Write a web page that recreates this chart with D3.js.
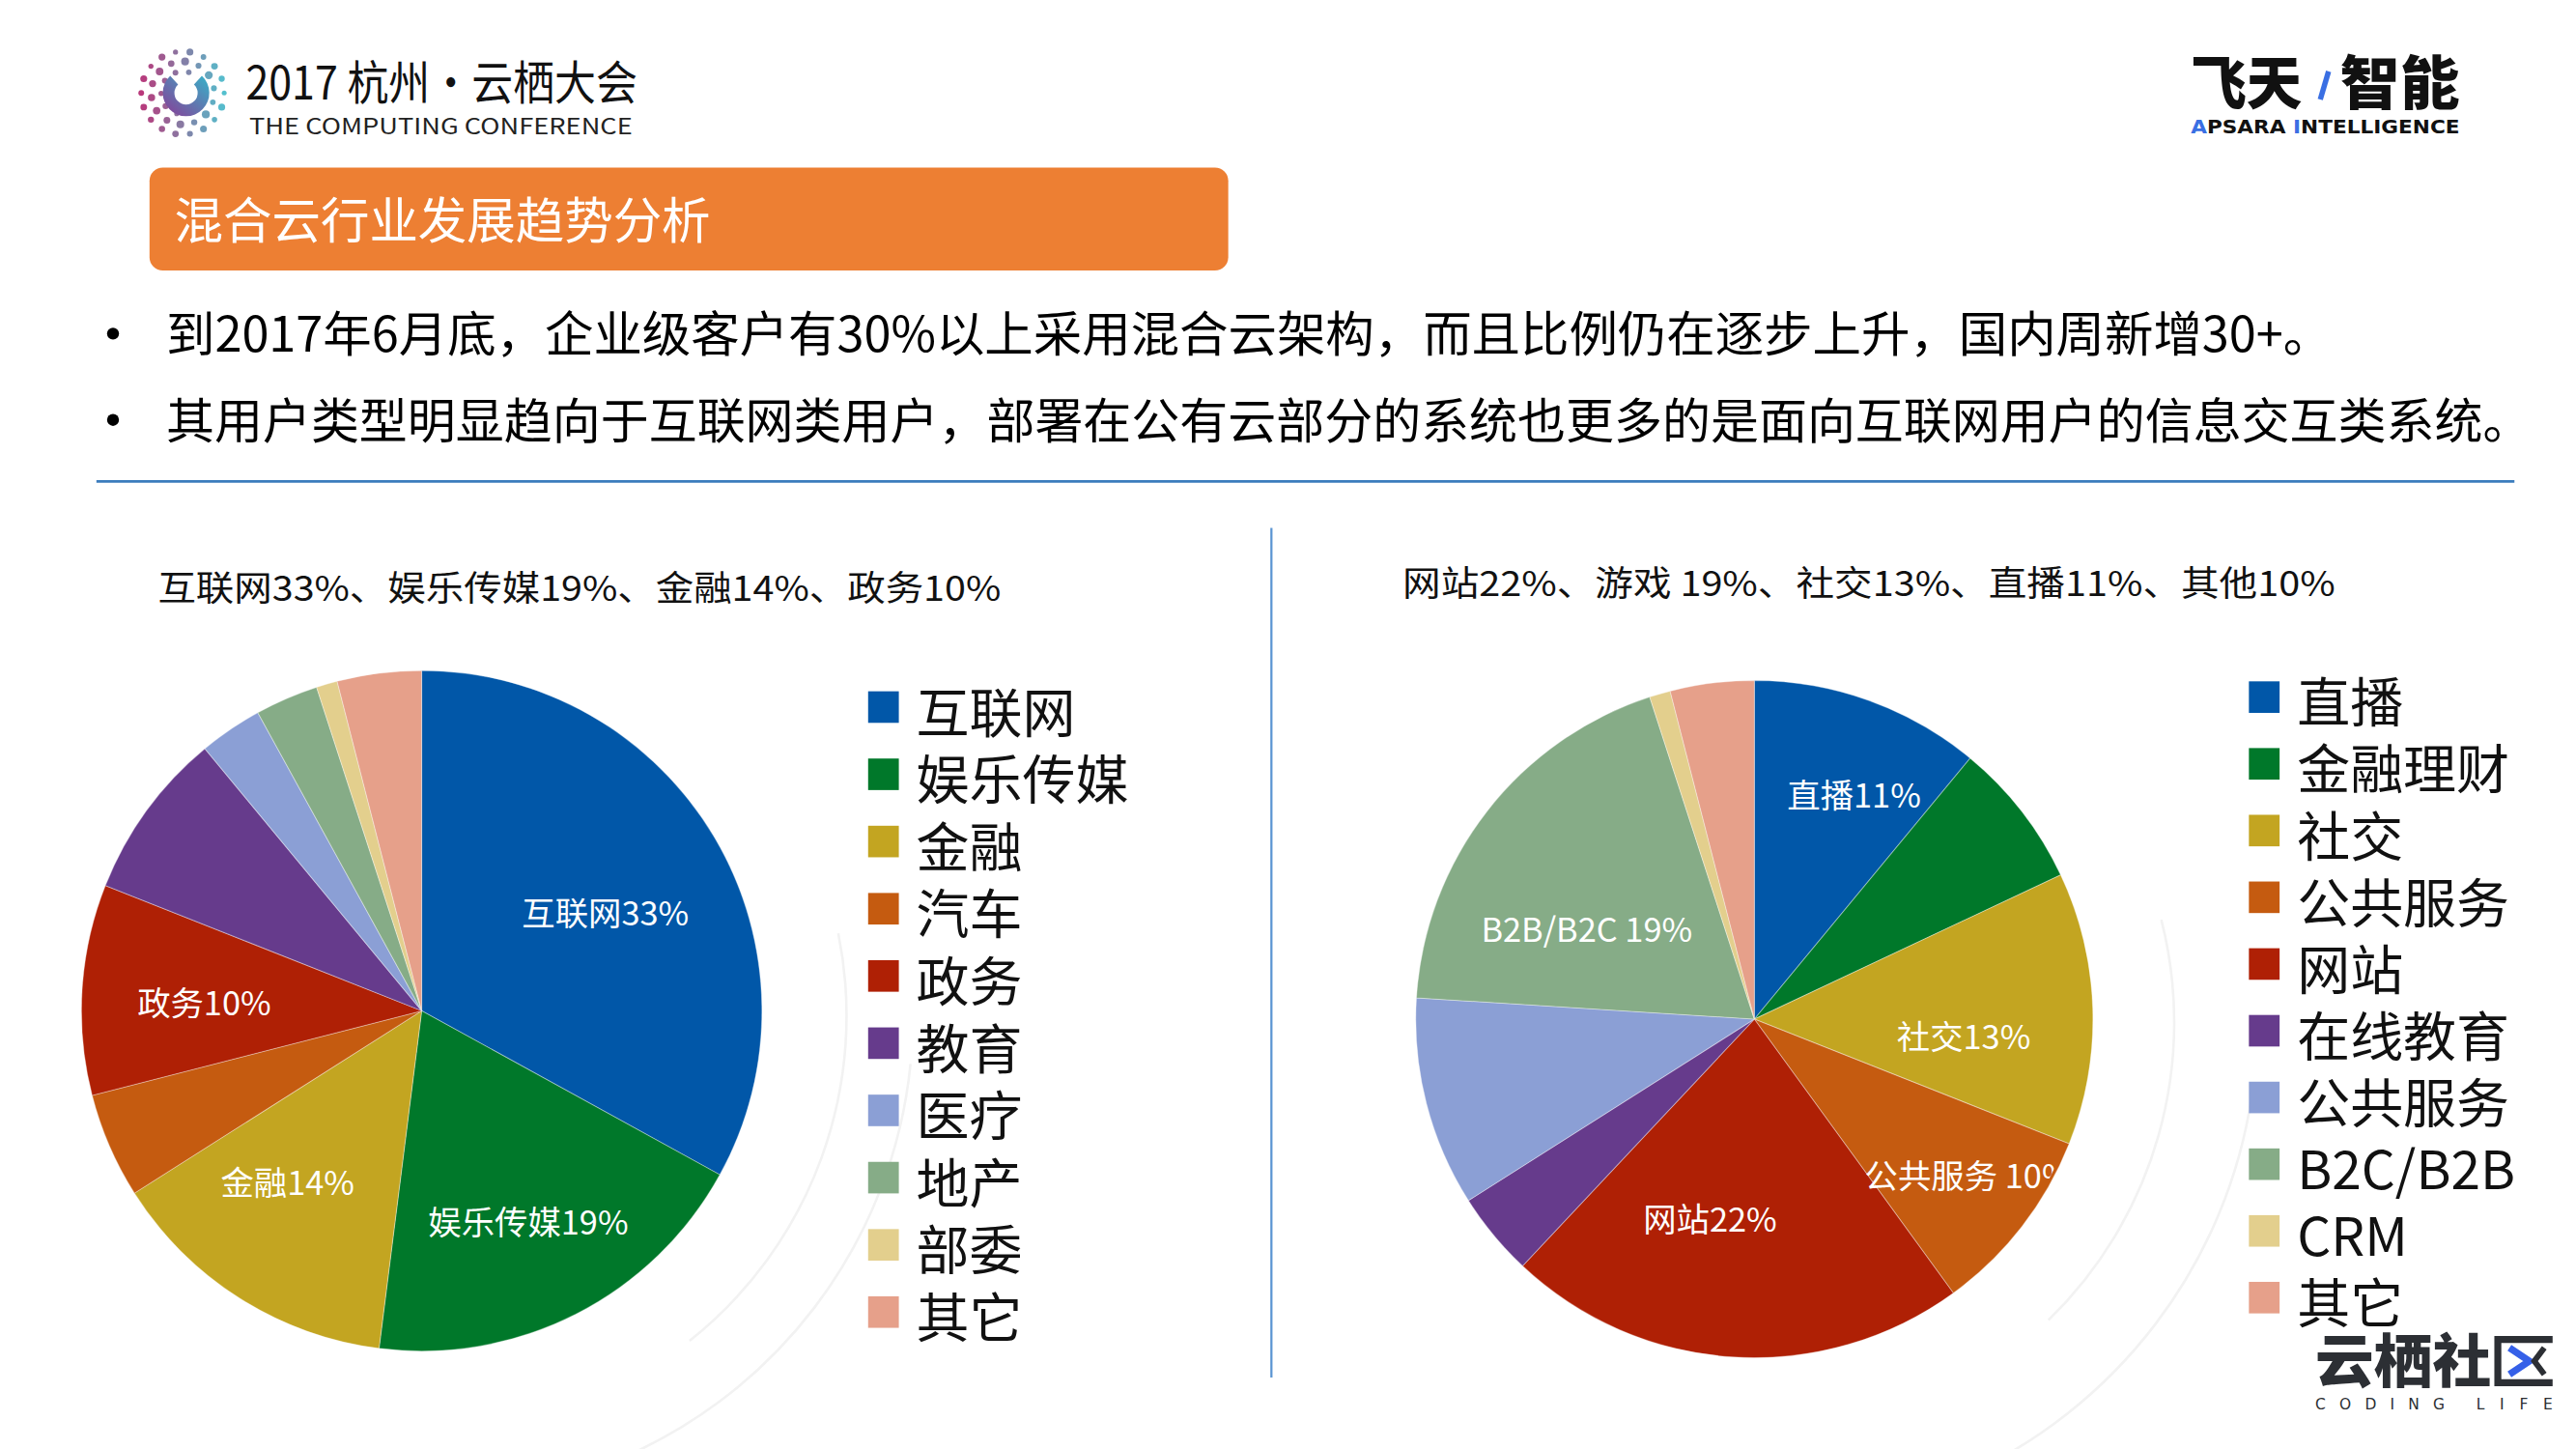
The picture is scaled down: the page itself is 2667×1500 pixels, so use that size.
<!DOCTYPE html>
<html>
<head>
<meta charset="utf-8">
<script src="https://cdn.jsdelivr.net/npm/d3@7/dist/d3.min.js"></script>
<style>
html,body{margin:0;padding:0;background:#fff;}
svg{display:block;}
text{font-family:"Noto Sans CJK SC","Microsoft YaHei",sans-serif;}
</style>
</head>
<body>
<svg id="chart" width="2667" height="1500" viewBox="0 0 1552 873"></svg>
<script>
// ---------- DATA ----------
const titleText = "混合云行业发展趋势分析";
const bulletTexts = [
  "到2017年6月底，企业级客户有30%以上采用混合云架构，而且比例仍在逐步上升，国内周新增30+。",
  "其用户类型明显趋向于互联网类用户，部署在公有云部分的系统也更多的是面向互联网用户的信息交互类系统。"
];
const leftSubtitle = "互联网33%、娱乐传媒19%、金融14%、政务10%";
const rightSubtitle = "网站22%、游戏 19%、社交13%、直播11%、其他10%";

const leftCategories = ["互联网","娱乐传媒","金融","汽车","政务","教育","医疗","地产","部委","其它"];
const leftValues = [33, 19, 14, 5, 10, 8, 3, 3, 1, 4];
const leftLabels = ["互联网33%","娱乐传媒19%","金融14%","","政务10%","","","","",""];

const rightCategories = ["直播","金融理财","社交","公共服务","网站","在线教育","公共服务","B2C/B2B","CRM","其它"];
const rightValues = [11, 7, 13, 9, 22, 4, 10, 19, 1, 4];
const rightLabels = ["直播11%","","社交13%","公共服务 10%","网站22%","","","B2B/B2C 19%","",""];

const sliceColors = ["#0157A8","#00782A","#C3A521","#C55B10","#AF2005","#663B8C","#8B9FD5","#86AC87","#E3CF8D","#E6A08A"];

// ---------- LAYOUT (styling only) ----------
const leftPie  = {cx:254, cy:609, r:205, legendX:523, legendY0:426, legendStep:40.5,
                  labelR:[0.615,0.69,0.635,0,0.64,0,0,0,0,0],
                  labelDA:[2,0,6,0,-1,0,0,0,0,0]};
const rightPie = {cx:1057, cy:614, r:204, legendX:1355, legendY0:420, legendStep:40.2,
                  labelR:[0.73,0,0.62,0.78,0.60,0,0,0.565,0,0],
                  labelDA:[4,0,6,-2,9,0,0,-9,0,0]};

const svg = d3.select("#chart");

// ---------- faint background arcs ----------
const bg = svg.append("g").attr("fill","none").attr("stroke","#f2f2f2").attr("stroke-width",1.5);
[[260,612,250,-0.2,0.9],[260,612,290,0.1,1.2],[1060,616,250,-0.25,0.8],[1060,616,300,0.15,1.15]].forEach(a=>{
  bg.append("path").attr("transform",`translate(${a[0]},${a[1]})`)
    .attr("d", d3.arc()({innerRadius:a[2],outerRadius:a[2],startAngle:Math.PI/2+a[3],endAngle:Math.PI/2+a[4]}));
});

// ---------- header: conference logo ----------
const logo = svg.append("g");
const lc = [110, 56];
const colorAt = d3.scaleLinear().domain([lc[0]-26, lc[0]+26]).range(["#b3206b","#3fbccb"]).interpolate(d3.interpolateRgb);
[[25,18,2.1],[19,14,2.4],[13,10,1.9]].forEach(([rr,n,dr],k)=>{
  for(let i=0;i<n;i++){
    const ang = (i/n)*2*Math.PI + k*0.3;
    const x = lc[0]+rr*Math.cos(ang), y = lc[1]+rr*Math.sin(ang);
    if(k===2 && Math.cos(ang)>0.3) continue;
    logo.append("circle").attr("cx",x).attr("cy",y).attr("r",dr*(0.7+0.3*Math.abs(Math.sin(i*1.7))))
      .attr("fill",colorAt(x)).attr("opacity",0.9);
  }
});
const grad = svg.append("defs").append("linearGradient").attr("id","cgrad").attr("x1","0").attr("x2","1").attr("y1","1").attr("y2","0");
grad.append("stop").attr("offset","0").attr("stop-color","#8a3b96");
grad.append("stop").attr("offset","1").attr("stop-color","#36b3c9");
logo.append("path").attr("transform",`translate(${lc[0]+2},${lc[1]})`)
  .attr("d", d3.arc()({innerRadius:7,outerRadius:14,startAngle:0.75,endAngle:2*Math.PI-0.75,cornerRadius:3}))
  .attr("fill","url(#cgrad)");

svg.append("text").attr("x",148).attr("y",60).attr("font-size",28).attr("fill","#111")
  .attr("textLength",236).attr("lengthAdjust","spacingAndGlyphs").text("2017 杭州·云栖大会");
svg.append("text").attr("x",150).attr("y",81).attr("font-size",13).attr("fill","#222")
  .attr("textLength",231).attr("lengthAdjust","spacingAndGlyphs").text("THE COMPUTING CONFERENCE");

// ---------- header: Apsara logo ----------
svg.append("text").attr("x",1320).attr("y",63).attr("font-size",35).attr("font-weight",900).attr("fill","#111")
  .attr("textLength",67).attr("lengthAdjust","spacingAndGlyphs").text("飞天");
svg.append("line").attr("x1",1398).attr("y1",60).attr("x2",1403).attr("y2",43)
  .attr("stroke","#3a6fe3").attr("stroke-width",3.2);
svg.append("text").attr("x",1410).attr("y",63).attr("font-size",35).attr("font-weight",900).attr("fill","#111")
  .attr("textLength",72).attr("lengthAdjust","spacingAndGlyphs").text("智能");
const ap = svg.append("text").attr("x",1320).attr("y",80.5).attr("font-size",11).attr("font-weight",700)
  .attr("fill","#111").attr("textLength",162).attr("lengthAdjust","spacingAndGlyphs")
  .style("font-family","'DejaVu Sans',sans-serif");
ap.append("tspan").attr("fill","#3a6fe3").text("A");
ap.append("tspan").text("PSARA ");
ap.append("tspan").attr("fill","#3a6fe3").text("I");
ap.append("tspan").text("NTELLIGENCE");

// ---------- title bar ----------
svg.append("rect").attr("x",90).attr("y",101).attr("width",650).attr("height",62).attr("rx",8)
  .attr("fill","#ED7F33");
svg.append("text").attr("x",105).attr("y",144).attr("font-size",30).attr("fill","#fff")
  .attr("textLength",323).attr("lengthAdjust","spacingAndGlyphs").text(titleText);

// ---------- bullets ----------
const bulletY = [212, 264], bulletW = [1305, 1425];
bulletTexts.forEach((t,i)=>{
  svg.append("circle").attr("cx",68).attr("cy",bulletY[i]-11).attr("r",3.6).attr("fill","#000");
  svg.append("text").attr("x",100).attr("y",bulletY[i]).attr("font-size",29).attr("fill","#000")
    .attr("textLength",bulletW[i]).attr("lengthAdjust","spacingAndGlyphs").text(t);
});
svg.append("line").attr("x1",58).attr("x2",1515).attr("y1",290).attr("y2",290)
  .attr("stroke","#3b7cbd").attr("stroke-width",1.6);
svg.append("line").attr("x1",766).attr("x2",766).attr("y1",318).attr("y2",830)
  .attr("stroke","#5b95d2").attr("stroke-width",1.3);

// ---------- subtitles ----------
svg.append("text").attr("x",95).attr("y",362).attr("font-size",21).attr("fill","#111")
  .attr("textLength",508).attr("lengthAdjust","spacingAndGlyphs").text(leftSubtitle);
svg.append("text").attr("x",845).attr("y",359).attr("font-size",21).attr("fill","#111")
  .attr("textLength",562).attr("lengthAdjust","spacingAndGlyphs").text(rightSubtitle);

// ---------- pies ----------
const color = d3.scaleOrdinal().domain(d3.range(10)).range(sliceColors);
function drawPie(id, cfg, cats, vals, labels){
  const g = svg.append("g").attr("transform",`translate(${cfg.cx},${cfg.cy})`);
  const pie = d3.pie().sort(null).value(d=>d.v);
  const data = pie(vals.map((v,i)=>({v, i, cat:cats[i], label:labels[i]})));
  const arc = d3.arc().innerRadius(0).outerRadius(cfg.r);
  g.selectAll("path.slice").data(data).join("path").attr("class","slice")
    .attr("d",arc).attr("fill",d=>color(d.data.i))
    .attr("stroke","#ffffff").attr("stroke-opacity",0.35).attr("stroke-width",0.6);
  const clipId = "clip-"+id;
  svg.append("defs").append("clipPath").attr("id",clipId)
    .append("circle").attr("cx",0).attr("cy",0).attr("r",cfg.r-2);
  const lg = g.append("g").attr("clip-path",`url(#${clipId})`);
  lg.selectAll("text").data(data.filter(d=>d.data.label)).join("text")
    .attr("transform",d=>{
      const rr = cfg.r*cfg.labelR[d.data.i];
      const shift = cfg.labelDA[d.data.i]*Math.PI/180;
      const mid = (d.startAngle+d.endAngle)/2 + shift;
      const c = d3.arc().innerRadius(rr).outerRadius(rr).centroid({startAngle:mid,endAngle:mid});
      return `translate(${c[0]},${c[1]})`;
    })
    .attr("text-anchor","middle").attr("dominant-baseline","central")
    .attr("font-size",20).attr("fill","#fff").text(d=>d.data.label);
  // legend
  const leg = svg.append("g");
  const y = d3.scaleLinear().domain([0,1]).range([cfg.legendY0, cfg.legendY0+cfg.legendStep]);
  cats.forEach((c,i)=>{
    leg.append("rect").attr("x",cfg.legendX).attr("y",y(i)-9.5).attr("width",18.5).attr("height",19)
      .attr("fill",color(i));
    leg.append("text").attr("x",cfg.legendX+29).attr("y",y(i)+1).attr("dominant-baseline","central")
      .attr("font-size",32).attr("fill","#111").text(c);
  });
}
drawPie("L", leftPie, leftCategories, leftValues, leftLabels);
drawPie("R", rightPie, rightCategories, rightValues, rightLabels);

// ---------- bottom-right logo ----------
svg.append("text").attr("x",1395).attr("y",833).attr("font-size",35).attr("font-weight",900).attr("fill","#2c2f34")
  .attr("textLength",106).attr("lengthAdjust","spacingAndGlyphs").text("云栖社");
const q = svg.append("g");
q.append("path").attr("d","M1538,807 L1505,807 L1505,833 L1538,833").attr("fill","none")
  .attr("stroke","#2c2f34").attr("stroke-width",4.2);
q.append("path").attr("d","M1512,812 L1524,820 L1512,828").attr("fill","none")
  .attr("stroke","#3560e8").attr("stroke-width",4.2);
q.append("path").attr("d","M1533,812 L1527,820 L1533,828").attr("fill","none")
  .attr("stroke","#2c2f34").attr("stroke-width",3.5);
svg.append("text").attr("x",1395).attr("y",849).attr("font-size",9).attr("fill","#2c2f34")
  .attr("textLength",78).attr("lengthAdjust","spacing").style("font-family","'DejaVu Sans',sans-serif").text("CODING");
svg.append("text").attr("x",1492).attr("y",849).attr("font-size",9).attr("fill","#2c2f34")
  .attr("textLength",46).attr("lengthAdjust","spacing").style("font-family","'DejaVu Sans',sans-serif").text("LIFE");
</script>
</body>
</html>
